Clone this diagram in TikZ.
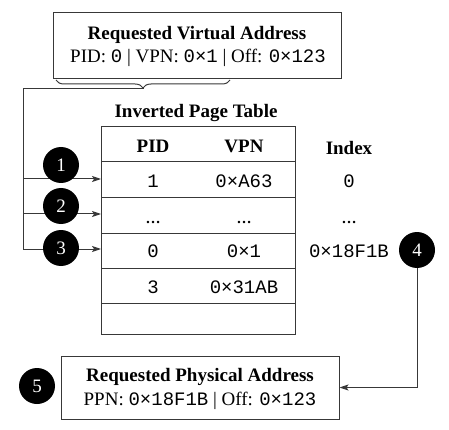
\documentclass[tikz,border=0pt]{standalone}
\usepackage{fontspec}
\setmainfont{Liberation Serif}
\setmonofont{Liberation Mono}
\usetikzlibrary{decorations.pathreplacing,arrows.meta}
\begin{document}
\begin{tikzpicture}[x=1pt,y=-1pt,
  every node/.style={font=\fontsize{19}{22}\selectfont, inner sep=0pt},
  ln/.style={draw=black!78, line width=1pt},
  box/.style={draw=black!78, line width=1pt, inner sep=0pt},
  num/.style={circle, fill=black, text=white, minimum size=36pt, inner sep=0pt, font=\fontsize{19}{22}\selectfont},
  arr/.style={ln, -{Stealth[length=9pt,width=6pt,inset=2pt]}},
  hd/.style={font=\fontsize{19}{22}\selectfont\bfseries, anchor=base},
  cell/.style={font=\fontsize{19}{22}\selectfont\ttfamily, anchor=base},
  txt/.style={anchor=base},
  dots/.style={font=\fontsize{15}{18}\selectfont\bfseries, anchor=base},
]
\useasboundingbox (0,0) rectangle (449,430);

% top box
\node[box, minimum width=288pt, minimum height=66pt] (va) at (197,46) {};
\node[hd] (vat) at (197,40) {Requested Virtual Address};
\node[txt] (vad) at (198,63) {PID: \texttt{0} | VPN: \texttt{0×1} | Off: \texttt{0×123}};
\draw[ln, decorate, decoration={brace, mirror, amplitude=8pt}] (56,80) -- (230,80);
\coordinate (bt) at (143,88);

% table
\node[hd] (ttl) at (196,118) {Inverted Page Table};
\node[box, minimum width=194pt, minimum height=207pt] (tbl) at (198,230.5) {};
\foreach \yy in {162,198,233,268,303} \draw[ln] (101,\yy) -- (295,\yy);

\node[hd] (hpid) at (153,153) {PID};
\node[hd] (hvpn) at (244,153) {VPN};
\node[hd] (hidx) at (349,155) {Index};

\node[cell] (p1) at (153,188) {1};
\node[cell] (v1) at (244,188) {0×A63};
\node[cell] (i1) at (349,188) {0};
\node[dots] (p2) at (153,223) {…};
\node[dots] (v2) at (244,223) {…};
\node[dots] (i2) at (349,223) {…};
\node[cell] (p3) at (153,257) {0};
\node[cell] (v3) at (244,257) {0×1};
\node[cell] (i3) at (349,257) {0×18F1B};
\node[cell] (p4) at (153,293) {3};
\node[cell] (v4) at (244,293) {0×31AB};

% connectors from virtual address
\coordinate (j0) at (23,89);
\coordinate (j1) at (23,179);
\coordinate (j2) at (23,214);
\coordinate (j3) at (23,249);
\coordinate (e1) at (101,179);
\coordinate (e2) at (101,214);
\coordinate (e3) at (101,249);
\draw[ln] (bt) -- (143,89) -- (j0) -- (j3);
\draw[arr] (j1) -- (e1);
\draw[arr] (j2) -- (e2);
\draw[arr] (j3) -- (e3);

% bottom box
\node[box, minimum width=278pt, minimum height=63pt] (pa) at (200,387.5) {};
\node[hd] (pat) at (200,381) {Requested Physical Address};
\node[txt] (pad) at (200,405) {PPN: \texttt{0×18F1B} | Off: \texttt{0×123}};

% circles
\node[num] (n1) at (61,165) {1};
\node[num] (n2) at (61,206) {2};
\node[num] (n3) at (61,248) {3};
\node[num] (n4) at (417,250) {4};
\node[num] (n5) at (37,386) {5};

\draw[arr] (n4.south) |- (pa.east);
\end{tikzpicture}
\end{document}
